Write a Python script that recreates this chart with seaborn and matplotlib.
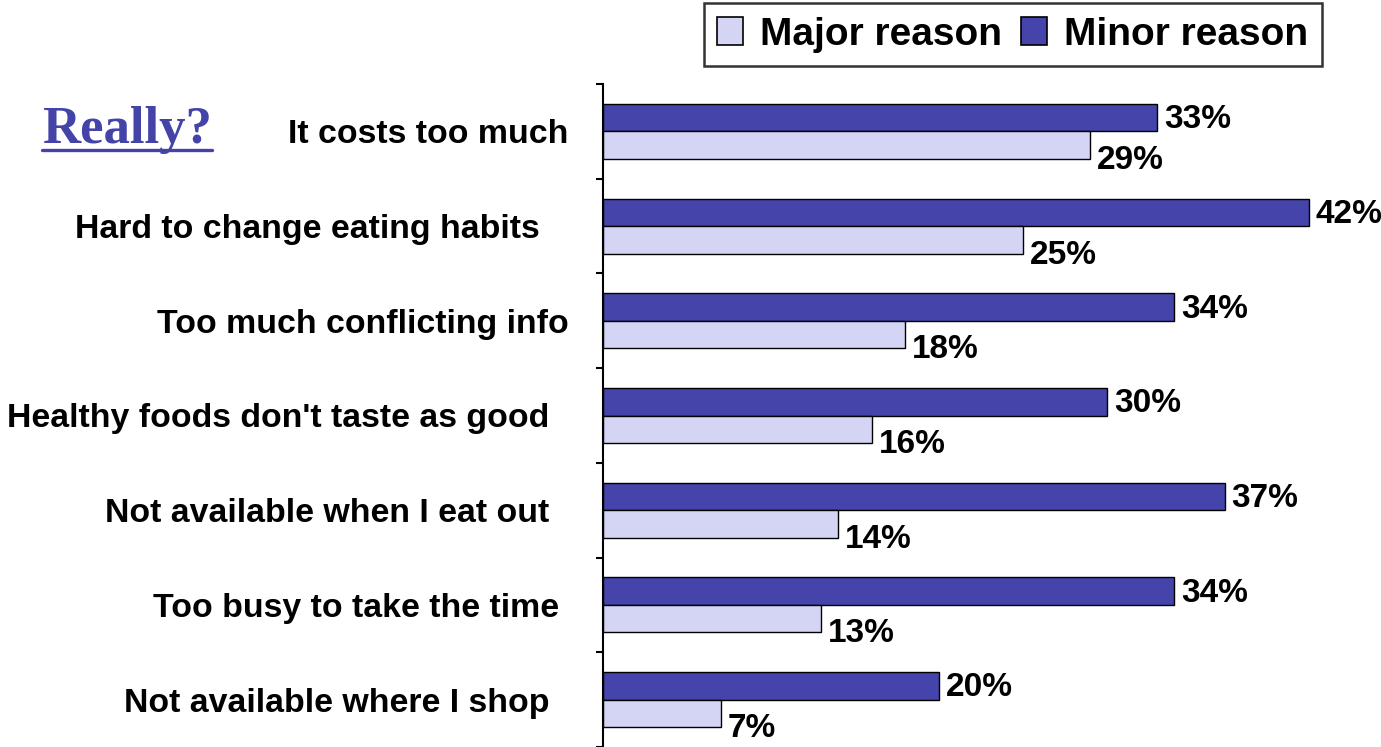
import matplotlib
matplotlib.use("Agg")
import matplotlib.pyplot as plt
from matplotlib.lines import Line2D
from matplotlib.patches import Patch
from matplotlib.ticker import FixedLocator
import pandas as pd
import seaborn as sns

# Survey data: reasons for not eating healthier
categories = [
    "It costs too much",
    "Hard to change eating habits   ",
    "Too much conflicting info",
    "Healthy foods don't taste as good  ",
    "Not available when I eat out  ",
    "Too busy to take the time ",
    "Not available where I shop  ",
]
major_reason = [29, 25, 18, 16, 14, 13, 7]
minor_reason = [33, 42, 34, 30, 37, 34, 20]
series_names = ["Minor reason", "Major reason"]
legend_order = ["Major reason", "Minor reason"]

MINOR_COLOR = "#4444AA"
MAJOR_COLOR = "#D4D4F5"
palette = {"Minor reason": MINOR_COLOR, "Major reason": MAJOR_COLOR}

df = pd.DataFrame({
    "category": categories * 2,
    "reason": ["Minor reason"] * len(categories) + ["Major reason"] * len(categories),
    "pct": minor_reason + major_reason,
})

sns.set_theme(style="white")
plt.rcParams["font.family"] = ["Liberation Sans", "DejaVu Sans"]
plt.rcParams["text.color"] = "black"

W, H = 1381, 747
fig = plt.figure(figsize=(W / 100, H / 100), dpi=100)
ax = fig.add_axes([603 / W, 0.0, (W - 603) / W, (H - 84) / H])

sns.barplot(
    data=df, y="category", x="pct", hue="reason",
    order=categories, hue_order=series_names, palette=palette,
    orient="h", width=0.58, gap=0, edgecolor="black", linewidth=1.0,
    saturation=1, legend=False, ax=ax,
)

ax.set_xlim(0, (W - 603) / 16.8)
ax.set_ylim(len(categories) - 0.5, -0.5)
ax.set_xlabel("")
ax.set_ylabel("")
ax.set_xticks([])

for side in ("top", "right", "bottom"):
    ax.spines[side].set_visible(False)
ax.spines["left"].set_color("black")
ax.spines["left"].set_linewidth(1.5)

# category labels at centres, tick marks at category boundaries
ax.tick_params(axis="y", which="major", length=0, pad=25,
               labelsize=24.4, labelcolor="black")
for lab in ax.get_yticklabels():
    lab.set_fontweight("bold")
ax.yaxis.set_minor_locator(FixedLocator([i - 0.5 for i in range(len(categories) + 1)]))
ax.tick_params(axis="y", which="minor", left=True, length=5, width=1.5,
               color="black", direction="out")

# value labels: minor at bar end, major nudged down
for container, dy in zip(ax.containers, (-1.5, -11)):
    for patch, val in zip(container.patches, container.datavalues):
        yc = patch.get_y() + patch.get_height() / 2
        ax.annotate(f"{val:.0f}%", xy=(val, yc), xytext=(5, dy),
                    textcoords="offset points", ha="left", va="center",
                    fontsize=24, fontweight="bold", color="black",
                    annotation_clip=False)

# legend
handles = [Patch(facecolor=palette[n], edgecolor="black", linewidth=1.2)
           for n in legend_order]
leg = fig.legend(handles, legend_order, loc="upper right",
                 bbox_to_anchor=(1322 / W, 1 - 3 / H), ncol=2,
                 prop={"family": "Liberation Sans", "weight": "bold", "size": 28},
                 frameon=True, fancybox=False, handlelength=0.65,
                 handleheight=0.75, handletextpad=0.45, columnspacing=0.5,
                 borderpad=0.35, borderaxespad=0, labelcolor="black")
leg.get_frame().set_edgecolor("black")
leg.get_frame().set_linewidth(1.8)

# underlined heading
title = fig.text(42 / W, 1 - 143 / H, "Really?", ha="left", va="baseline",
                 fontsize=38, fontweight="bold", color="#4343A8",
                 family=["Liberation Serif", "DejaVu Serif"])
fig.canvas.draw()
bb = title.get_window_extent(fig.canvas.get_renderer())
uy = 1 - 150 / H
fig.add_artist(Line2D([bb.x0 / W, bb.x1 / W], [uy, uy], color="#4343A8",
                      linewidth=2.4, transform=fig.transFigure))

fig.savefig("out.png", dpi=100, facecolor="white")
